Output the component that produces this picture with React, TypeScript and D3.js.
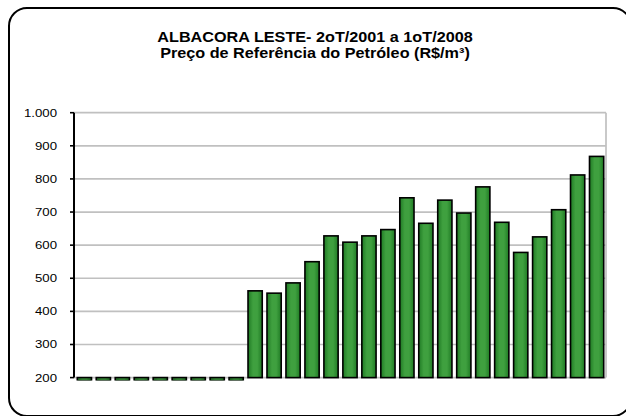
import React from "react";
import * as d3 from "d3";

const quarters = [
  "2T01","3T01","4T01",
  "1T02","2T02","3T02","4T02",
  "1T03","2T03","3T03","4T03",
  "1T04","2T04","3T04","4T04",
  "1T05","2T05","3T05","4T05",
  "1T06","2T06","3T06","4T06",
  "1T07","2T07","3T07","4T07",
  "1T08",
];
const prices = [
  191, 191, 191, 191, 191, 191, 191, 191, 191,
  462, 455, 486, 550, 628, 609, 628, 647, 743, 666, 736, 697, 776, 669, 578, 625, 707, 812, 868,
];
const yTicks = [200, 300, 400, 500, 600, 700, 800, 900, 1000];
const titleLines = ["ALBACORA LESTE- 2oT/2001 a 1oT/2008", "Preço de Referência do Petróleo (R$/m³)"];

const W = 626, H = 416;
const plot = { left: 75, right: 606, top: 112.7, bottom: 377.6 };

export default function App() {
  const x = d3.scaleBand<string>().domain(quarters).range([plot.left, plot.right]).paddingInner(0.25).paddingOuter(0.12);
  const y = d3.scaleLinear().domain([200, 1000]).range([plot.bottom, plot.top]);
  const fmt = (v: number) => d3.format(",")(v).replace(/,/g, ".");
  const axisX = 74;
  return (
    <svg width={W} height={H} style={{ position: "absolute", left: 0, top: 0 }} fontFamily="'Liberation Sans', Arial, sans-serif">
      <defs>
        <linearGradient id="barg" x1="0" x2="1" y1="0" y2="0">
          <stop offset="0" stopColor="#1f7a24" />
          <stop offset="0.35" stopColor="#3fa03f" />
          <stop offset="0.65" stopColor="#3fa03f" />
          <stop offset="1" stopColor="#1f7a24" />
        </linearGradient>
        <clipPath id="pc">
          <rect x={plot.left} y={plot.top - 2} width={plot.right - plot.left + 2} height={plot.bottom - plot.top + 5} />
        </clipPath>
      </defs>
      <rect x={0} y={0} width={W} height={H} fill="#fff" />
      <rect x={9} y={8} width={622} height={408} rx={18} ry={18} fill="#fff" stroke="#000" strokeWidth={2} />
      {titleLines.map((t, i) => (
        <text key={i} transform={`translate(315,${42 + i * 15.5}) scale(1.2,1.05)`} textAnchor="middle" fontSize={13.5} fontWeight="bold" fill="#000">{t}</text>
      ))}
      {yTicks.map((t) => (
        <g key={t}>
          <line x1={axisX} x2={plot.right} y1={y(t)} y2={y(t)} stroke="#c0c0c0" strokeWidth={1.7} />
          <line x1={axisX - 4} x2={axisX} y1={y(t)} y2={y(t)} stroke="#000" strokeWidth={1.6} />
          <text transform={`translate(57,${y(t) + 4}) scale(1.2,1)`} textAnchor="end" fontSize={11} fill="#000">{fmt(t)}</text>
        </g>
      ))}
      <line x1={plot.right} x2={plot.right} y1={plot.top} y2={plot.bottom} stroke="#c0c0c0" strokeWidth={1.7} />
      <g clipPath="url(#pc)">
        {prices.map((v, i) => {
          const bx = x(quarters[i])!;
          const y0 = y(200);
          const y1 = y(v);
          return (
            <rect key={i} x={bx} y={Math.min(y0, y1)} width={x.bandwidth()} height={Math.abs(y1 - y0)}
              fill="url(#barg)" stroke="#000" strokeWidth={1.6} />
          );
        })}
      </g>
      <line x1={axisX} x2={axisX} y1={plot.top} y2={plot.bottom} stroke="#000" strokeWidth={2} />
    </svg>
  );
}
